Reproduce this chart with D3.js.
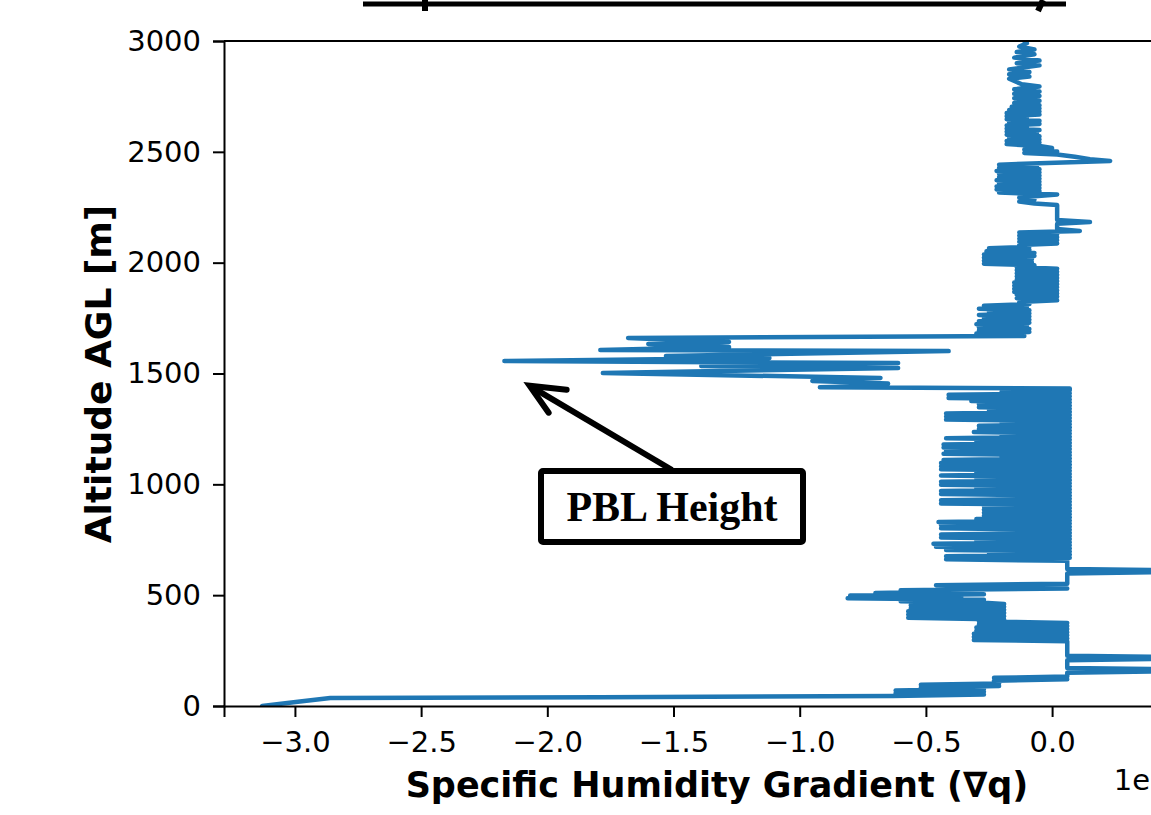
<!DOCTYPE html>
<html>
<head>
<meta charset="utf-8">
<script src="https://cdn.jsdelivr.net/npm/d3@7"></script>
<style>
  html, body { margin: 0; padding: 0; background: #fff; overflow: hidden; }
  svg { display: block; }
</style>
</head>
<body>
<script>
// specific humidity gradient (x, in units of 1e-5) traced from bottom to top
const gradient = [
  -3.13, -2.98, -2.86, -1.79, -0.63, -0.27, -0.62, -0.27, -0.62, -0.27, -0.52, -0.21, -0.52, -0.21, -0.23, 0.06, -0.23, 0.06,
  0.06, 0.6, 0.6, 0.06, 0.06, 0.6, 0.6, 0.06, 0.06,
  -0.31, 0.06, -0.31, 0.06, -0.31, 0.06, -0.30, 0.06, -0.30, 0.06, -0.29, 0.06, -0.29,
  -0.19, -0.57, -0.19, -0.57, -0.19, -0.57, -0.19, -0.56, -0.19, -0.56, -0.19,
  -0.27, -0.60, -0.27, -0.81, -0.36, -0.80, -0.27, -0.70, -0.36, -0.60, 0.06, -0.46, 0.06, 0.06, 0.6, 0.6, 0.06, 0.06,
  -0.42, 0.07, -0.42, 0.07, -0.25, 0.07, -0.42, 0.07, -0.46, 0.07, -0.47, 0.07, -0.30, 0.07, -0.44, 0.07, -0.44, 0.07, -0.20, 0.07,
  -0.44, 0.07, -0.44, 0.07, -0.45, 0.07, -0.30, 0.07, -0.27, 0.07, -0.27, 0.07, -0.27, 0.07, -0.27, 0.07, -0.44, 0.07, -0.44, 0.07,
  -0.20, 0.07, -0.44, 0.07, -0.44, 0.07, -0.30, 0.07, -0.44, 0.07, -0.44, 0.07, -0.30, 0.07, -0.44, 0.07, -0.30, 0.07, -0.44, 0.07,
  -0.44, 0.07, -0.44, 0.07, -0.43, 0.07, -0.20, 0.07, -0.43, 0.07, -0.42, 0.07, -0.43, 0.07, -0.43, 0.07, -0.30, 0.07, -0.42, 0.07,
  -0.20, 0.07, -0.31, 0.07, -0.29, 0.07, -0.29, 0.07, -0.20, 0.07, -0.42, 0.07, -0.42, 0.07, -0.42, 0.07, -0.25, 0.07, -0.29, 0.07,
  -0.29, 0.07, -0.32, 0.07, -0.41, 0.07, -0.41, 0.07, -0.20, 0.07, 0.07,
  -0.92, -0.76, -0.65, -0.95, -0.68, -1.78, -0.61, -1.39, -0.61, -2.17, -1.12, -1.53, -0.41, -1.79, -1.28, -1.60, -1.28, -1.68, -0.11,
  -0.30, -0.09, -0.29, -0.09, -0.29, -0.10, -0.30, -0.09, -0.29, -0.09, -0.27, -0.09, -0.29, -0.09, -0.25, -0.09, -0.29, -0.10, -0.27, -0.09, -0.13, 0.02,
  -0.14, 0.02, -0.14, 0.02, -0.15, 0.02, -0.15, 0.02, -0.15, 0.02, -0.15, 0.02, -0.14, 0.02, -0.14, 0.02, -0.14, 0.02, -0.14, 0.02, -0.14, -0.07,
  -0.27, -0.08, -0.27, -0.08, -0.27, -0.07, -0.27, -0.07, -0.26, -0.09, -0.25, -0.09,
  -0.13, 0.02, -0.13, 0.02, -0.13, 0.02, -0.13, 0.02, -0.13, 0.11, 0.02, 0.02, 0.15, 0.02, 0.02,
  -0.07, -0.13, -0.07, -0.13, 0.02,
  -0.21, -0.05, -0.22, -0.05, -0.22, -0.05, -0.21, -0.05, -0.22, -0.05, -0.21, -0.05, -0.21, -0.05, -0.22, -0.05, -0.21, -0.06, -0.21,
  0.23, 0.15, 0.09, 0.02,
  -0.11, 0.02, -0.11, 0.00, -0.05,
  -0.18, -0.05, -0.18, -0.05, -0.17, -0.05, -0.18, -0.06, -0.18, -0.05, -0.18, -0.10, -0.18, -0.05,
  -0.17, -0.05, -0.18, -0.10, -0.18, -0.05, -0.18, -0.05, -0.17, -0.05, -0.16, -0.05, -0.15, -0.05,
  -0.15, -0.05, -0.15, -0.05, -0.15, -0.05, -0.12, -0.17, -0.09, -0.17, -0.09,
  -0.17, -0.05, -0.14, -0.05, -0.15, -0.07, -0.14, -0.07, -0.13, -0.10, -0.11
];
// altitude above ground level [m], same order as gradient
const altitude = [
  0, 20, 36, 40, 45, 52, 58, 64, 70, 77, 84, 90, 96, 102, 114, 121, 127, 133,
  150, 160, 165, 171, 206, 215, 220, 227, 292,
  298, 305, 312, 319, 326, 333, 340, 347, 354, 361, 368, 375, 382,
  390, 398, 405, 413, 420, 427, 434, 441, 448, 455, 460,
  466, 473, 479, 486, 492, 498, 504, 510, 516, 522, 530, 545, 552, 598, 606, 611, 618, 655,
  662, 669, 676, 683, 690, 697, 704, 711, 718, 725, 732, 739, 746, 753, 760, 767, 774, 781, 788, 795,
  802, 809, 816, 823, 830, 837, 844, 851, 858, 865, 872, 879, 886, 893, 900, 907, 914, 921, 928, 935,
  942, 949, 956, 963, 970, 977, 984, 991, 998, 1005, 1012, 1019, 1026, 1033, 1040, 1047, 1054, 1061, 1068, 1075,
  1082, 1089, 1096, 1103, 1110, 1117, 1124, 1131, 1138, 1145, 1152, 1159, 1166, 1173, 1180, 1187, 1194, 1201, 1208, 1215,
  1222, 1229, 1236, 1243, 1250, 1257, 1264, 1271, 1278, 1285, 1292, 1299, 1306, 1313, 1320, 1327, 1334, 1341, 1348, 1355,
  1362, 1369, 1376, 1383, 1390, 1397, 1404, 1411, 1418, 1425, 1432,
  1438, 1443, 1455, 1466, 1480, 1502, 1525, 1534, 1547, 1556, 1570, 1579, 1601, 1606, 1619, 1633, 1642, 1660, 1669,
  1680, 1687, 1694, 1701, 1708, 1715, 1722, 1729, 1736, 1743, 1750, 1757, 1764, 1771, 1778, 1785, 1792, 1799, 1806, 1813, 1822, 1830,
  1840, 1847, 1854, 1861, 1868, 1875, 1882, 1889, 1896, 1903, 1910, 1917, 1924, 1931, 1938, 1945, 1952, 1959, 1966, 1973, 1980, 1988,
  1995, 2002, 2009, 2016, 2023, 2030, 2037, 2044, 2051, 2058, 2065, 2072,
  2080, 2087, 2094, 2101, 2108, 2115, 2122, 2129, 2136, 2143, 2152, 2175, 2183, 2192, 2260,
  2267, 2276, 2285, 2294, 2308,
  2316, 2323, 2330, 2337, 2344, 2351, 2358, 2365, 2372, 2379, 2386, 2393, 2400, 2407, 2414, 2421, 2428, 2435, 2442,
  2459, 2467, 2478, 2488,
  2495, 2502, 2510, 2517, 2526,
  2535, 2542, 2549, 2556, 2563, 2570, 2577, 2584, 2591, 2598, 2605, 2612, 2619, 2626,
  2633, 2640, 2647, 2654, 2661, 2668, 2675, 2682, 2689, 2696, 2703, 2710, 2720, 2730,
  2742, 2752, 2762, 2772, 2782, 2795, 2805, 2830, 2840, 2850, 2860,
  2872, 2890, 2900, 2912, 2925, 2940, 2950, 2962, 2975, 2990, 3000
];
const xTicks = [-3.0, -2.5, -2.0, -1.5, -1.0, -0.5, 0.0];
const yTicks = [0, 500, 1000, 1500, 2000, 2500, 3000];
const pblLabel = "PBL Height";
const pblAltitude = 1445;
const pblGradient = -2.07;

const W = 1151, H = 815;
const plot = { left: 224, right: 1200, top: 41, bottom: 706 };

const svg = d3.select("body").append("svg")
  .attr("width", W)
  .attr("height", H)
  .attr("viewBox", `0 0 ${W} ${H}`);

const x = d3.scaleLinear().domain([-3.281, 0.586]).range([plot.left, plot.right]);
const y = d3.scaleLinear().domain([0, 3000]).range([plot.bottom, plot.top]);

svg.append("clipPath").attr("id", "clip")
  .append("rect")
  .attr("x", plot.left).attr("y", plot.top)
  .attr("width", plot.right - plot.left).attr("height", plot.bottom - plot.top);

// remnant of the panel above (cropped)
svg.append("line")
  .attr("x1", 363).attr("x2", 1066).attr("y1", 4).attr("y2", 4)
  .attr("stroke", "#000").attr("stroke-width", 5);
svg.append("line")
  .attr("x1", 425).attr("x2", 425).attr("y1", 0).attr("y2", 11)
  .attr("stroke", "#000").attr("stroke-width", 6);
svg.append("line")
  .attr("x1", 1043).attr("x2", 1038).attr("y1", 0).attr("y2", 11)
  .attr("stroke", "#000").attr("stroke-width", 6);

const fmt = d => (d < 0 ? "\u2212" : "") + Math.abs(d).toFixed(1);

const profile = gradient.map((g, i) => ({ g, a: altitude[i] }));
const line = d3.line().x(d => x(d.g)).y(d => y(d.a));

svg.append("path")
  .datum(profile)
  .attr("clip-path", "url(#clip)")
  .attr("fill", "none")
  .attr("stroke", "#1f77b4")
  .attr("stroke-width", 4.5)
  .attr("stroke-linejoin", "round")
  .attr("stroke-linecap", "round")
  .attr("d", line);

const xAxis = svg.append("g")
  .attr("transform", `translate(0,${plot.bottom})`)
  .call(d3.axisBottom(x).tickValues(xTicks).tickFormat(fmt).tickSize(11).tickPadding(14));
const yAxis = svg.append("g")
  .attr("transform", `translate(${plot.left},0)`)
  .call(d3.axisLeft(y).tickValues(yTicks).tickFormat(d3.format("d")).tickSize(11).tickPadding(12));

[xAxis, yAxis].forEach(g => {
  g.select(".domain").attr("stroke", "#000").attr("stroke-width", 2);
  g.selectAll(".tick line").attr("stroke", "#000").attr("stroke-width", 2);
  g.selectAll(".tick text")
    .attr("fill", "#000")
    .style("font-family", "'DejaVu Sans', sans-serif")
    .style("font-size", "29px");
});

// top spine
svg.append("line")
  .attr("x1", plot.left).attr("x2", plot.right)
  .attr("y1", plot.top).attr("y2", plot.top)
  .attr("stroke", "#000").attr("stroke-width", 2);

svg.append("text")
  .attr("x", 717).attr("y", 797)
  .attr("text-anchor", "middle")
  .style("font-family", "'DejaVu Sans', sans-serif")
  .style("font-weight", "bold")
  .style("font-size", "35px")
  .text("Specific Humidity Gradient (\u2207q)");

svg.append("text")
  .attr("transform", `translate(111,374) rotate(-90)`)
  .attr("text-anchor", "middle")
  .style("font-family", "'DejaVu Sans', sans-serif")
  .style("font-weight", "bold")
  .style("font-size", "36px")
  .text("Altitude AGL [m]");

svg.append("text")
  .attr("x", 1150).attr("y", 790)
  .attr("text-anchor", "end")
  .style("font-family", "'DejaVu Sans', sans-serif")
  .style("font-size", "29px")
  .text("1e");

// annotation
const ann = svg.append("g");
const tipX = x(pblGradient), tipY = y(pblAltitude);
ann.append("line")
  .attr("x1", 672).attr("y1", 470)
  .attr("x2", tipX + 3).attr("y2", tipY + 2)
  .attr("stroke", "#000").attr("stroke-width", 6);
ann.append("path")
  .attr("d", `M${tipX + 37},${tipY + 4} L${tipX},${tipY} L${tipX + 19},${tipY + 27}`)
  .attr("fill", "none").attr("stroke", "#000").attr("stroke-width", 6)
  .attr("stroke-linejoin", "miter").attr("stroke-linecap", "round");
ann.append("rect")
  .attr("x", 541).attr("y", 471).attr("width", 262).attr("height", 71)
  .attr("rx", 2)
  .attr("fill", "#fff").attr("stroke", "#000").attr("stroke-width", 6);
ann.append("text")
  .attr("x", 672).attr("y", 521)
  .attr("text-anchor", "middle")
  .style("font-family", "'Liberation Serif', 'Times New Roman', serif")
  .style("font-weight", "bold")
  .style("font-size", "42px")
  .text(pblLabel);
</script>
</body>
</html>
